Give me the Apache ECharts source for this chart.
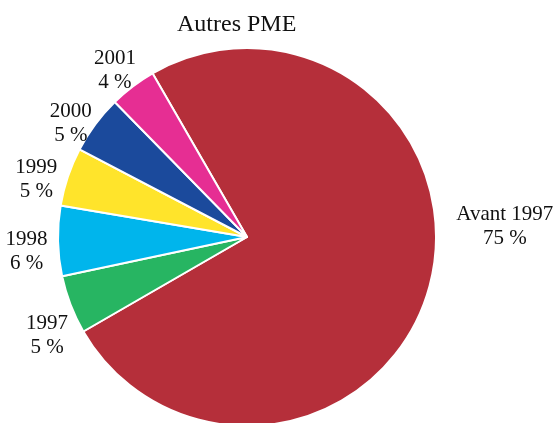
<!DOCTYPE html>
<html>
<head>
<meta charset="utf-8">
<script src="https://cdn.jsdelivr.net/npm/echarts@6/dist/echarts.min.js"></script>
<style>
  html, body { margin: 0; padding: 0; background: #fff; }
  #chart { width: 557px; height: 423px; }
</style>
</head>
<body>
<div id="chart"></div>
<script>
const categories = ['Avant 1997', '1997', '1998', '1999', '2000', '2001']
const shares = [75, 5, 6, 5, 5, 4]
const colors = ['#B52F3A', '#27B562', '#00B5EC', '#FFE42B', '#1B4A9C', '#E62E93']

// petits décalages des libellés pour coller à la mise en page d'origine
const labelOffsets = [[14, -62], [10, 28], [-1, 10], [2, 5], [8, 4], [13, -10]]

const chart = echarts.init(document.getElementById('chart'))

const txt = { fontFamily: 'Liberation Serif', fontSize: 21, lineHeight: 24, color: '#111', align: 'center' }

chart.setOption({
  animation: false,
  color: colors,
  title: {
    text: 'Autres PME',
    left: 172,
    top: 8,
    textStyle: { fontFamily: 'Liberation Serif', fontSize: 24, fontWeight: 'normal', color: '#111' }
  },
  series: [{
    type: 'pie',
    center: [247, 237],
    radius: [0, 189],
    startAngle: 120,
    clockwise: true,
    itemStyle: { borderColor: '#fff', borderWidth: 2 },
    label: {
      show: true,
      position: 'outside',
      overflow: 'none',
      edgeDistance: 0,
      formatter: p => '{a|' + p.name + '}\n{a|' + p.value + ' %}',
      rich: { a: txt }
    },
    labelLine: { show: false, length: 8, length2: 0 },
    data: categories.map((c, i) => ({
      name: c,
      value: shares[i],
      label: { offset: labelOffsets[i] }
    }))
  }]
})
</script>
</body>
</html>
